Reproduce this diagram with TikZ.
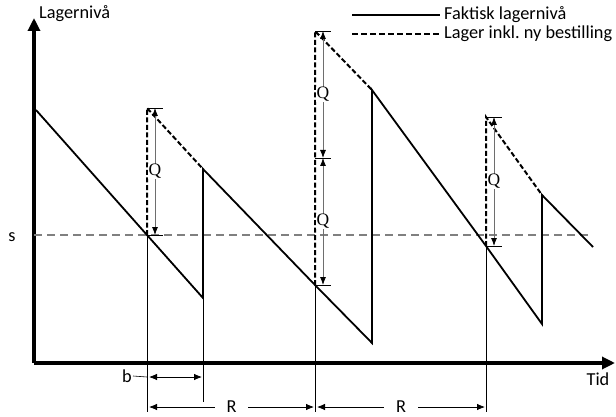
\documentclass[tikz,border=0pt]{standalone}
\usepackage{fontspec}
\setmainfont{Carlito}
\newfontfamily\qfont{Liberation Serif}
\usetikzlibrary{arrows.meta,positioning}
\definecolor{grisline}{HTML}{808080}
\definecolor{grismaal}{HTML}{6E6E6E}
\tikzset{
  akse/.style={line width=3.2pt,-{Triangle[length=13pt,width=12pt]}},
  faktisk/.style={line width=1.8pt},
  bestilling/.style={line width=2pt,dash pattern=on 5pt off 2.5pt},
  tekst/.style={inner sep=1pt,font=\fontsize{18.3}{19}\selectfont},
}

\begin{document}
\begin{tikzpicture}[x=1pt,y=-1pt,
  hjelp/.style={line width=0.6pt},
  maal/.style={line width=0.8pt,draw=grismaal,{Latex[length=8pt,width=6pt,black]}-{Latex[length=8pt,width=6pt,black]}},
  pil/.style={line width=0.8pt,{Latex[length=8pt,width=6.5pt]}-{Latex[length=8pt,width=6.5pt]}},
  qlabel/.style={fill=white,inner sep=0.5pt,font=\qfont\fontsize{17.5}{18}\selectfont},
  tick/.style={line width=0.6pt}]
  \useasboundingbox (0,0) rectangle (616,417);
  % akser
  \coordinate (o) at (34,363);
  \coordinate (ytopp) at (34,18);
  \coordinate (xende) at (615,363);
  \draw[akse] (o) -- (ytopp);
  \draw[akse] (o) -- (xende);
  \node[tekst,anchor=west] (ylabel) at (38,14) {Lagerniv\aa};
  \node[tekst] (xlabel) at (598,379) {Tid};
  % bestillingspunkt s
  \coordinate (s0) at (34,235);
  \coordinate (s9) at (592,235);
  \draw[grisline,line width=1.3pt,dash pattern=on 8pt off 5pt] (s0) -- (s9);
  \node[tekst] (slabel) at (12,237) {s};
  % faktisk lagerniva
  \coordinate (a0) at (36,110);
  \coordinate (b1) at (147,235); \coordinate (n1) at (203,298); \coordinate (t1) at (203,169);
  \coordinate (b2) at (315,285); \coordinate (n2) at (372,343); \coordinate (t2) at (372,90);
  \coordinate (b3) at (486,246); \coordinate (n3) at (542,324); \coordinate (t3) at (542,195);
  \coordinate (a9) at (593,247);
  \draw[faktisk] (a0) -- (b1) -- (n1) -- (t1) -- (b2) -- (n2) -- (t2) -- (b3) -- (n3) -- (t3) -- (a9);
  % lager inkl. ny bestilling
  \coordinate (q1) at (147,108);
  \coordinate (q2) at (315,31);
  \coordinate (q3) at (486,117);
  \foreach \i in {1,2,3} {\draw[bestilling] (b\i) -- (q\i) -- (t\i);}
  % Q-piler
  \coordinate (m1a) at (155,108); \coordinate (m1b) at (155,235);
  \coordinate (m2a) at (323,31);  \coordinate (m2m) at (323,158); \coordinate (m2b) at (323,285);
  \coordinate (m3a) at (494,117); \coordinate (m3b) at (494,246);
  \foreach \p in {m1a,m1b,m2a,m2m,m2b,m3a,m3b}
    \draw[tick] ([xshift=-8pt]\p) -- ([xshift=8pt]\p);
  \draw[maal] (m1a) -- node[qlabel] (Q1) {Q} (m1b);
  \draw[maal] (m2a) -- node[qlabel] (Q2) {Q} (m2m);
  \draw[maal] (m2m) -- node[qlabel] (Q3) {Q} (m2b);
  \draw[maal] (m3a) -- node[qlabel] (Q4) {Q} (m3b);
  % hjelpelinjer
  \coordinate (h1) at (147,412);
  \coordinate (h2) at (203,402);
  \coordinate (h3) at (315,412);
  \coordinate (h4) at (486,412);
  \draw[hjelp] (b1) -- (h1);
  \draw[hjelp] (n1) -- (h2);
  \draw[hjelp] (b2) -- (h3);
  \draw[hjelp] (b3) -- (h4);
  % b og R
  \node[tekst] (blabel) at (127,376) {b};
  \coordinate (bv) at (149,377); \coordinate (bh) at (202,377);
  \draw[hjelp] (blabel.east) -- ([xshift=-2pt]bv);
  \draw[pil] (bv) -- (bh);
  \coordinate (r0) at (149,407); \coordinate (r1) at (314,407);
  \coordinate (r2) at (317,407); \coordinate (r3) at (485,407);
  \draw[pil] (r0) -- node[tekst,fill=white,inner xsep=12pt] (R1) {R} (r1);
  \draw[pil] (r2) -- node[tekst,fill=white,inner xsep=12pt] (R2) {R} (r3);
  % tegnforklaring
  \coordinate (l1a) at (352,15); \coordinate (l1b) at (440,15);
  \coordinate (l2a) at (352,34); \coordinate (l2b) at (440,34);
  \draw[faktisk] (l1a) -- (l1b);
  \draw[line width=1.6pt,dash pattern=on 6pt off 3pt] (l2a) -- (l2b);
  \node[tekst,anchor=west] (leg1) at (443,15) {Faktisk lagerniv\aa};
  \node[tekst,anchor=west] (leg2) at (443,34) {Lager inkl.\ ny bestilling};
\end{tikzpicture}
\end{document}
